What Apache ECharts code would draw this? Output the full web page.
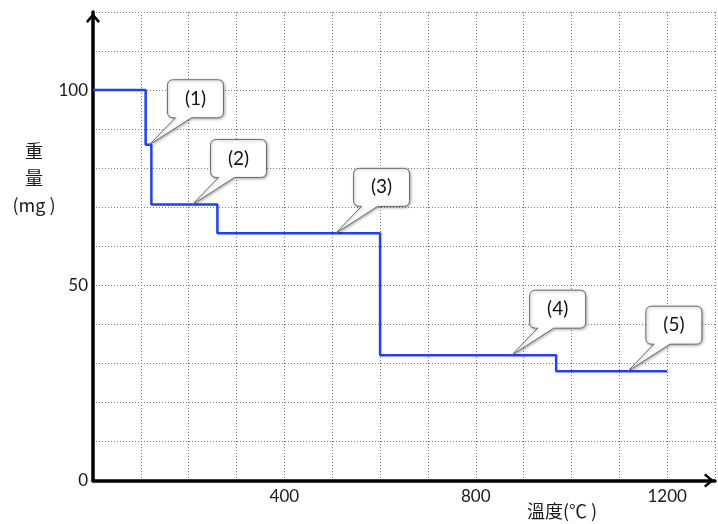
<!DOCTYPE html>
<html>
<head>
<meta charset="utf-8">
<script src="https://cdn.jsdelivr.net/npm/echarts@6/dist/echarts.min.js"></script>
<style>
html,body{margin:0;padding:0;background:#fff;}
#chart{width:718px;height:524px;}
</style>
</head>
<body>
<div id="chart"></div>
<script>
// Step line: temperature (°C) vs weight (mg)
const temps   = [0, 110, 110, 122, 122, 260, 260, 600, 600, 968, 968, 1200];
const weights = [100, 100, 86, 86, 70.7, 70.7, 63.3, 63.3, 32.1, 32.1, 28, 28];

// Callout anchors (on the curve) and their labels
const calloutTemps   = [118, 208, 507, 875, 1118];
const calloutWeights = [86, 70.7, 63.3, 32.1, 28];
const calloutLabels  = ['(1)', '(2)', '(3)', '(4)', '(5)'];

// Tick labels shown
const xTickLabels = [400, 800, 1200];
const yTickLabels = [0, 50, 100];

const xAxisName = '溫度(℃ )';
const yAxisName = '重\n量\n(mg )';

const chart = echarts.init(document.getElementById('chart'));
const numFont = 'Lato, "Noto Sans", sans-serif';
const cjkFont = '"Noto Sans CJK TC", "Noto Sans", sans-serif';
const arrow = 'path://M50,0 L100,60 L87,72 L50,28 L13,72 L0,60 Z';

const lineData = temps.map((t, i) => [t, weights[i]]);
const calloutData = calloutTemps.map((t, i) => [t, calloutWeights[i], calloutLabels[i]]);

chart.setOption({
  animation: false,
  backgroundColor: '#fff',
  grid: { left: 93, right: 0, top: 12, bottom: 43.5 },
  xAxis: {
    type: 'value', min: 0, max: 1300, interval: 100,
    axisLine: { show: true, lineStyle: { color: '#000', width: 3.5 },
      symbol: ['none', arrow], symbolSize: [14, 13], symbolOffset: [0, -6] },
    axisTick: { show: false },
    axisLabel: { margin: 8, color: '#1a1a1a', fontSize: 17, fontFamily: numFont,
      formatter: v => xTickLabels.includes(v) ? String(v) : '' },
    splitLine: { show: true, lineStyle: { color: '#7a7a7a', width: 1, type: [1, 2] } }
  },
  yAxis: {
    type: 'value', min: 0, max: 120, interval: 10,
    axisLine: { show: true, lineStyle: { color: '#000', width: 3.5 },
      symbol: ['none', arrow], symbolSize: [14, 13], symbolOffset: [0, -6] },
    axisTick: { show: false },
    axisLabel: { margin: 5, color: '#1a1a1a', fontSize: 17, fontFamily: numFont,
      formatter: v => yTickLabels.includes(v) ? String(v) : '' },
    splitLine: { show: true, lineStyle: { color: '#7a7a7a', width: 1, type: [1, 2] } }
  },
  graphic: [
    { type: 'text', x: 34, y: 138, style: { text: yAxisName, fill: '#1a1a1a',
        font: '18px ' + cjkFont, lineHeight: 27, align: 'center', verticalAlign: 'top' } },
    { type: 'text', x: 527, y: 502, style: { text: xAxisName, fill: '#1a1a1a',
        font: '18px ' + cjkFont } }
  ],
  series: [
    {
      type: 'line', data: lineData, showSymbol: false, z: 3,
      lineStyle: { color: '#1f3fff', width: 2.5 }
    },
    {
      type: 'custom', data: calloutData, z: 5,
      renderItem: function (params, api) {
        const p = api.coord([api.value(0), api.value(1)]);
        const bx = p[0] + 18, by = p[1] - 65, w = 56, h = 38, r = 6;
        const t1 = bx + 8, t2 = bx + 24;
        const d = [
          'M', bx + r, by, 'L', bx + w - r, by, 'Q', bx + w, by, bx + w, by + r,
          'L', bx + w, by + h - r, 'Q', bx + w, by + h, bx + w - r, by + h,
          'L', t2, by + h, 'L', p[0], p[1], 'L', t1, by + h,
          'L', bx + r, by + h, 'Q', bx, by + h, bx, by + h - r,
          'L', bx, by + r, 'Q', bx, by, bx + r, by, 'Z'
        ].join(' ');
        return {
          type: 'group',
          children: [
            { type: 'path', shape: { pathData: d },
              style: { fill: '#fff', stroke: '#6a6a6a', lineWidth: 1,
                shadowBlur: 3, shadowColor: 'rgba(0,0,0,0.3)', shadowOffsetX: 1, shadowOffsetY: 1 } },
            { type: 'text', x: bx + w / 2, y: by + h / 2,
              style: { text: api.value(2), fill: '#111', font: '19px ' + numFont,
                align: 'center', verticalAlign: 'middle' } }
          ]
        };
      }
    }
  ]
});
</script>
</body>
</html>
